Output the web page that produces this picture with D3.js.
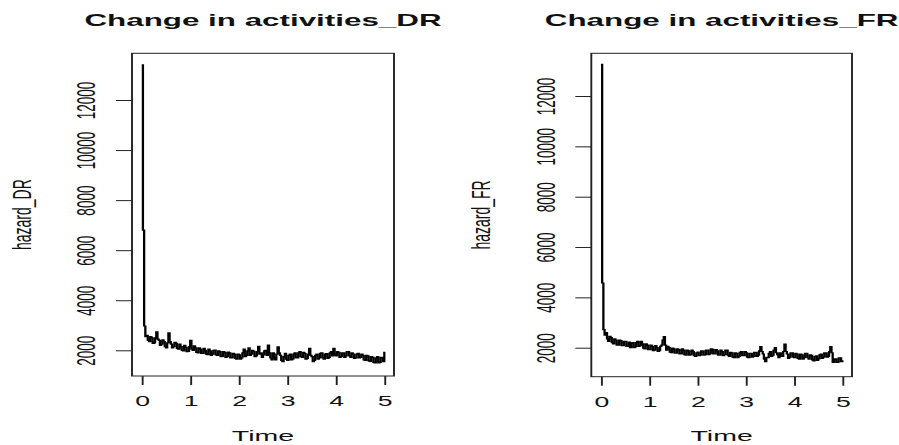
<!DOCTYPE html>
<html>
<head>
<meta charset="utf-8">
<script src="https://cdn.jsdelivr.net/npm/d3@7"></script>
<style>
  html, body { margin: 0; padding: 0; background: #fff; }
  svg { display: block; }
  text { font-family: "Liberation Sans", Arial, sans-serif; fill: #111; }
</style>
</head>
<body>
<script>
// ---------------- data ----------------
const titles = ["Change in activities_DR", "Change in activities_FR"];
const yLabels = ["hazard_DR", "hazard_FR"];
const xLabel = "Time";
const xTicks = [0, 1, 2, 3, 4, 5];
const yTicks = [2000, 4000, 6000, 8000, 10000, 12000];

const time = [
  0, 0.025, 0.05, 0.075, 0.1, 0.125, 0.15, 0.175,
  0.2, 0.225, 0.25, 0.275, 0.3, 0.325, 0.35, 0.375,
  0.4, 0.425, 0.45, 0.475, 0.5, 0.525, 0.55, 0.575,
  0.6, 0.625, 0.65, 0.675, 0.7, 0.725, 0.75, 0.775,
  0.8, 0.825, 0.85, 0.875, 0.9, 0.925, 0.95, 0.975,
  1.0, 1.025, 1.05, 1.075, 1.1, 1.125, 1.15, 1.175,
  1.2, 1.225, 1.25, 1.275, 1.3, 1.325, 1.35, 1.375,
  1.4, 1.425, 1.45, 1.475, 1.5, 1.525, 1.55, 1.575,
  1.6, 1.625, 1.65, 1.675, 1.7, 1.725, 1.75, 1.775,
  1.8, 1.825, 1.85, 1.875, 1.9, 1.925, 1.95, 1.975,
  2.0, 2.025, 2.05, 2.075, 2.1, 2.125, 2.15, 2.175,
  2.2, 2.225, 2.25, 2.275, 2.3, 2.325, 2.35, 2.375,
  2.4, 2.425, 2.45, 2.475, 2.5, 2.525, 2.55, 2.575,
  2.6, 2.625, 2.65, 2.675, 2.7, 2.725, 2.75, 2.775,
  2.8, 2.825, 2.85, 2.875, 2.9, 2.925, 2.95, 2.975,
  3.0, 3.025, 3.05, 3.075, 3.1, 3.125, 3.15, 3.175,
  3.2, 3.225, 3.25, 3.275, 3.3, 3.325, 3.35, 3.375,
  3.4, 3.425, 3.45, 3.475, 3.5, 3.525, 3.55, 3.575,
  3.6, 3.625, 3.65, 3.675, 3.7, 3.725, 3.75, 3.775,
  3.8, 3.825, 3.85, 3.875, 3.9, 3.925, 3.95, 3.975,
  4.0, 4.025, 4.05, 4.075, 4.1, 4.125, 4.15, 4.175,
  4.2, 4.225, 4.25, 4.275, 4.3, 4.325, 4.35, 4.375,
  4.4, 4.425, 4.45, 4.475, 4.5, 4.525, 4.55, 4.575,
  4.6, 4.625, 4.65, 4.675, 4.7, 4.725, 4.75, 4.775,
  4.8, 4.825, 4.85, 4.875, 4.9, 4.925, 4.95, 4.975,
  5.0];

const hazardDR = [
  13400, 6800, 2970, 2550, 2600, 2400, 2350, 2550,
  2500, 2280, 2300, 2500, 2740, 2450, 2400, 2200,
  2250, 2420, 2350, 2150, 2100, 2300, 2700, 2350,
  2250, 2100, 2150, 2320, 2280, 2080, 2050, 2250,
  2150, 2000, 1980, 2200, 2120, 1950, 1960, 2150,
  2400, 2050, 2000, 2180, 2100, 1920, 1900, 2100,
  2050, 1880, 1880, 2080, 2000, 1850, 1830, 2050,
  1980, 1800, 1850, 2000, 2010, 1820, 1800, 1980,
  1950, 1750, 1760, 1950, 1920, 1720, 1750, 1930,
  1900, 1700, 1700, 1880, 1850, 1680, 1650, 1850,
  1820, 1650, 1700, 1900, 2050, 1750, 1800, 1980,
  2100, 1800, 1850, 2000, 1960, 1750, 1780, 1950,
  2160, 1850, 1900, 1720, 1820, 1980, 2000, 1800,
  2210, 1900, 1700, 1620, 1900, 1700, 1620, 1850,
  2140, 1900, 1800, 1600, 1550, 1750, 1880, 1650,
  1600, 1800, 1850, 1620, 1650, 1850, 1900, 1700,
  1700, 1900, 1950, 1750, 1720, 1920, 1880, 1650,
  1680, 1850, 2080, 1800, 1750, 1550, 1600, 1800,
  1850, 1650, 1700, 1880, 1900, 1700, 1650, 1850,
  1870, 1680, 1720, 1900, 1950, 1780, 2080, 1850,
  1780, 1950, 1920, 1720, 1750, 1900, 1900, 1720,
  1780, 1950, 1950, 1780, 1720, 1900, 1850, 1680,
  1700, 1850, 1880, 1700, 1720, 1850, 1800, 1620,
  1600, 1800, 1780, 1580, 1560, 1750, 1720, 1520,
  1500, 1700, 1750, 1500, 1520, 1720, 1700, 1550,
  1940];

const hazardFR = [
  13260, 4570, 2720, 2500, 2600, 2350, 2250, 2450,
  2400, 2200, 2150, 2350, 2300, 2100, 2100, 2300,
  2280, 2080, 2080, 2250, 2250, 2050, 2050, 2220,
  2000, 2180, 2200, 2000, 2030, 2200, 2250, 2050,
  2080, 2250, 2150, 1980, 1950, 2150, 2100, 1920,
  1920, 2100, 2050, 1880, 1900, 2080, 2000, 1850,
  1880, 2050, 2100, 2300, 2440, 2100, 1900, 2050,
  2000, 1820, 1800, 1980, 1950, 1780, 1780, 1950,
  1920, 1750, 1750, 1950, 1900, 1720, 1700, 1900,
  1880, 1700, 1720, 1900, 1850, 1680, 1650, 1800,
  1830, 1680, 1700, 1880, 1880, 1700, 1720, 1900,
  1900, 1720, 1760, 1950, 1930, 1750, 1750, 1920,
  1880, 1700, 1700, 1900, 1850, 1680, 1720, 1900,
  1900, 1700, 1650, 1820, 1800, 1620, 1600, 1800,
  1780, 1600, 1650, 1820, 1850, 1680, 1680, 1850,
  1800, 1620, 1600, 1780, 1780, 1620, 1650, 1820,
  1820, 1650, 1700, 1880, 2040, 1850, 1750, 1550,
  1450, 1620, 1600, 1780, 1850, 1650, 1700, 1900,
  2000, 1800, 1720, 1600, 1800, 1650, 1650, 1850,
  2140, 1850, 1750, 1580, 1620, 1800, 1800, 1620,
  1600, 1780, 1750, 1580, 1550, 1750, 1720, 1550,
  1600, 1780, 1780, 1600, 1550, 1720, 1700, 1520,
  1480, 1650, 1680, 1500, 1560, 1720, 1750, 1580,
  1620, 1800, 1800, 1620, 1650, 1850, 2040, 1800,
  1420, 1550, 1560, 1420, 1430, 1600, 1600, 1450,
  1500];

const xLimits = [-0.2, 5.2];
const yLimitsDR = [973, 13866];
const yLimitsFR = [848, 13697];

// ---------------- layout ----------------
const S = 1.9; // horizontal stretch of the whole picture
const panels = [
  { title: titles[0], ylab: yLabels[0], values: hazardDR, yLim: yLimitsDR,
    x0: 132, x1: 394, y0: 53.3, y1: 376, tickLabX: 95, ylabX: 31 },
  { title: titles[1], ylab: yLabels[1], values: hazardFR, yLim: yLimitsFR,
    x0: 591.3, x1: 852, y0: 53.3, y1: 376.7, tickLabX: 555, ylabX: 490 }
];

const svg = d3.select("body").append("svg")
  .attr("width", 899).attr("height", 445);
const root = svg.append("g").attr("transform", `scale(${S},1)`);

panels.forEach(p => {
  const x = d3.scaleLinear().domain(xLimits).range([p.x0 / S, p.x1 / S]);
  const y = d3.scaleLinear().domain(p.yLim).range([p.y1, p.y0]);
  const g = root.append("g");

  // data line
  const line = d3.line()
    .x((d, i) => x(time[i]))
    .y(d => y(d))
    .curve(d3.curveStepAfter);
  g.append("path")
    .datum(p.values)
    .attr("d", line)
    .attr("fill", "none")
    .attr("stroke", "#000")
    .attr("stroke-width", 1.2);

  // box
  g.append("rect")
    .attr("x", p.x0 / S).attr("y", p.y0)
    .attr("width", (p.x1 - p.x0) / S).attr("height", p.y1 - p.y0)
    .attr("fill", "none").attr("stroke", "#222").attr("stroke-width", 1);

  // x axis
  const xa = g.append("g")
    .attr("transform", `translate(0,${p.y1})`)
    .call(d3.axisBottom(x).tickValues(xTicks).tickSize(9).tickFormat(d3.format("d")));
  xa.select(".domain").remove();
  xa.selectAll(".tick line").attr("stroke", "#222");
  xa.selectAll(".tick text")
    .attr("y", 30.5).attr("dy", 0)
    .style("font-size", "14px")
    .style("font-family", "'Liberation Sans', Arial, sans-serif")
    .attr("fill", "#111");

  // y axis
  const ya = g.append("g")
    .attr("transform", `translate(${p.x0 / S},0)`)
    .call(d3.axisLeft(y).tickValues(yTicks).tickSize(16 / S).tickFormat(d3.format("d")));
  ya.select(".domain").remove();
  ya.selectAll(".tick line").attr("stroke", "#222");
  ya.selectAll(".tick text")
    .attr("x", null).attr("dy", 0)
    .attr("text-anchor", "middle")
    .attr("transform", `translate(${(p.tickLabX - p.x0) / S},0) rotate(-90)`)
    .style("font-size", "13.5px")
    .style("font-family", "'Liberation Sans', Arial, sans-serif")
    .attr("fill", "#111");

  // titles and labels
  const cx = (p.x0 + p.x1) / 2 / S;
  g.append("text")
    .attr("x", cx).attr("y", 26)
    .attr("text-anchor", "middle")
    .style("font-size", "16.5px").style("font-weight", "bold")
    .text(p.title);
  g.append("text")
    .attr("x", cx).attr("y", 441)
    .attr("text-anchor", "middle")
    .style("font-size", "15px")
    .text(xLabel);
  g.append("text")
    .attr("transform", `translate(${p.ylabX / S},${(p.y0 + p.y1) / 2}) rotate(-90)`)
    .attr("text-anchor", "middle")
    .style("font-size", "14px")
    .text(p.ylab);
});
</script>
</body>
</html>
